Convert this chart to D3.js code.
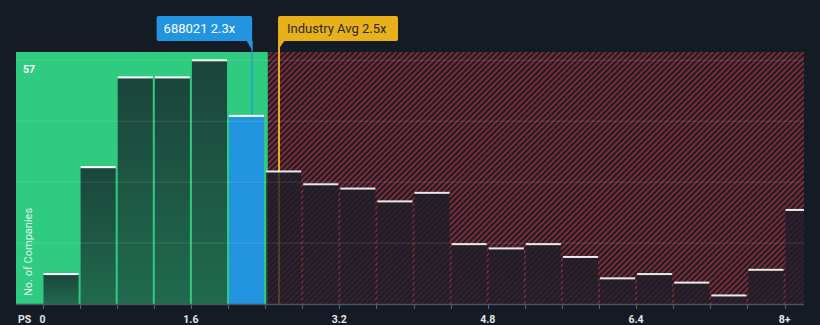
<!DOCTYPE html>
<html><head><meta charset="utf-8">
<script src="https://cdn.jsdelivr.net/npm/d3@7"></script>
<style>
html,body{margin:0;padding:0;background:#151b25;}
svg{display:block;font-family:Roboto,"Open Sans",sans-serif;}
</style></head>
<body>
<svg id="chart" width="820" height="325"></svg>
<script>
// ---- data ----
const binStarts = [0,0.4,0.8,1.2,1.6,2.0,2.4,2.8,3.2,3.6,4.0,4.4,4.8,5.2,5.6,6.0,6.4,6.8,7.2,7.6,8.0];
const counts    = [7,32,53,53,57,44,31,28,27,24,26,14,13,14,11,6,7,5,2,8,22];
const binWidth = 0.4;
const tickValues = [0,1.6,3.2,4.8,6.4,8];
const tickLabels = ["0","1.6","3.2","4.8","6.4","8+"];
const yMax = 57;
const companyName = "688021";
const companyValue = 2.26;
const companyLabel = "2.3x";
const industryValue = 2.55;
const industryLabel = "Industry Avg 2.5x";
const fairThreshold = 2.43;

// ---- layout ----
const plotL = 16, plotR = 804, plotT = 52, plotB = 304;
const svg = d3.select("#chart");
const x = d3.scaleLinear().domain([0, 8]).range([42.5, 784.5]);
const y = d3.scaleLinear().domain([0, yMax]).range([plotB, 60.3]);

const defs = svg.append("defs");
const pat = defs.append("pattern").attr("id","hatch").attr("patternUnits","userSpaceOnUse")
  .attr("width",4).attr("height",4).attr("patternTransform","rotate(45)");
pat.append("rect").attr("width",4).attr("height",4).attr("fill","#1d1b25");
pat.append("rect").attr("width",2).attr("height",4).attr("fill","#7b2c37");

const grad = defs.append("linearGradient").attr("id","barGrad").attr("x1",0).attr("y1",0).attr("x2",0).attr("y2",1);
grad.append("stop").attr("offset","0%").attr("stop-color","#151b25").attr("stop-opacity",0.76);
grad.append("stop").attr("offset","100%").attr("stop-color","#151b25").attr("stop-opacity",0.55);
const gradR = defs.append("linearGradient").attr("id","barGradR").attr("x1",0).attr("y1",0).attr("x2",0).attr("y2",1);
gradR.append("stop").attr("offset","0%").attr("stop-color","#1d1d29").attr("stop-opacity",0.82);
gradR.append("stop").attr("offset","100%").attr("stop-color","#1d1d29").attr("stop-opacity",0.74);

defs.append("clipPath").attr("id","plotClip").append("rect")
  .attr("x",plotL).attr("y",plotT).attr("width",plotR-plotL).attr("height",plotB-plotT);

const xThr = x(fairThreshold);
svg.append("rect").attr("x",plotL).attr("y",plotT).attr("width",xThr-plotL).attr("height",plotB-plotT).attr("fill","#2ecb80");
svg.append("rect").attr("x",xThr).attr("y",plotT).attr("width",plotR-xThr).attr("height",plotB-plotT).attr("fill","url(#hatch)");

const xc = x(companyValue), xi = x(industryValue);
svg.append("line").attr("x1",xc).attr("x2",xc).attr("y1",41).attr("y2",plotB).attr("stroke","#2394df").attr("stroke-width",1.2);
svg.append("line").attr("x1",xi).attr("x2",xi).attr("y1",41).attr("y2",plotB).attr("stroke","#e8b019").attr("stroke-width",2);

const g = svg.append("g").attr("clip-path","url(#plotClip)");
const bars = binStarts.map((s,i)=>({s, e:s+binWidth, v:counts[i]}));
const isCompany = d => companyValue>=d.s && companyValue<d.e;
g.selectAll("rect.bar").data(bars).join("rect").attr("class","bar")
  .attr("x",d=>x(d.s)+1).attr("width",d=>x(d.e)-x(d.s)-2)
  .attr("y",d=>y(d.v)).attr("height",d=>plotB-y(d.v))
  .attr("fill",d=> isCompany(d) ? "#2394df" : (d.e<=fairThreshold+1e-9 ? "url(#barGrad)" : "url(#barGradR)"));
g.selectAll("rect.top").data(bars).join("rect").attr("class","top")
  .attr("x",d=>x(d.s)+1).attr("width",d=>x(d.e)-x(d.s)-2)
  .attr("y",d=>y(d.v)-1).attr("height",2)
  .attr("fill","#ffffff").attr("opacity",d=>d.e<=fairThreshold+1e-9 || isCompany(d)?1:0.9);

const gridVals = [yMax/4, yMax/2, yMax*3/4, yMax];
svg.append("g").selectAll("line").data(gridVals).join("line")
  .attr("x1",plotL).attr("x2",plotR).attr("y1",d=>y(d)).attr("y2",d=>y(d))
  .attr("stroke","#ffffff").attr("stroke-opacity",0.12).attr("stroke-width",1);

svg.append("text").attr("x",23).attr("y",y(yMax)+12.5).attr("fill","#ffffff")
  .attr("font-size",10.5).attr("font-weight",700).text(String(yMax));
svg.append("text").attr("transform",`translate(32,296) rotate(-90)`)
  .attr("fill","#ffffff").attr("fill-opacity",0.85).attr("font-size",11).text("No. of Companies");

svg.append("line").attr("x1",plotL).attr("x2",plotR).attr("y1",plotB+0.5).attr("y2",plotB+0.5)
  .attr("stroke","#4b515c").attr("stroke-width",1.5);
svg.append("g").selectAll("line").data(binStarts).join("line")
  .attr("x1",d=>Math.round(x(d))+0.5).attr("x2",d=>Math.round(x(d))+0.5)
  .attr("y1",plotB+1).attr("y2",plotB+5).attr("stroke","#5a606a").attr("stroke-width",1);
svg.append("g").selectAll("text").data(tickValues).join("text")
  .attr("x",d=>x(d)).attr("y",322.5).attr("text-anchor","middle")
  .attr("fill","#e6e6e6").attr("font-size",10.5).attr("font-weight",700)
  .text((d,i)=>tickLabels[i]);
svg.append("text").attr("x",18).attr("y",322.5).attr("fill","#e6e6e6")
  .attr("font-size",10.5).attr("font-weight",700).text("PS");

const cbW = 95.5;
svg.append("rect").attr("x",xc-cbW).attr("y",16).attr("width",cbW).attr("height",25).attr("rx",2).attr("fill","#2394df");
svg.append("path").attr("d",`M${xc-6},40 L${xc},40 L${xc},50 Z`).attr("fill","#2394df");
svg.append("text").attr("x",xc-cbW+7).attr("y",33).attr("fill","#ffffff").attr("font-size",13)
  .text(companyName+" "+companyLabel);

const ibW = 120;
svg.append("rect").attr("x",xi-1).attr("y",16).attr("width",ibW).attr("height",25).attr("rx",2).attr("fill","#e8b019");
svg.append("path").attr("d",`M${xi-1},40 L${xi+6},40 L${xi-1},50 Z`).attr("fill","#e8b019");
svg.append("text").attr("x",xi+8).attr("y",33).attr("fill","#2a2a2a").attr("font-size",13)
  .text(industryLabel);
</script>
</body></html>
